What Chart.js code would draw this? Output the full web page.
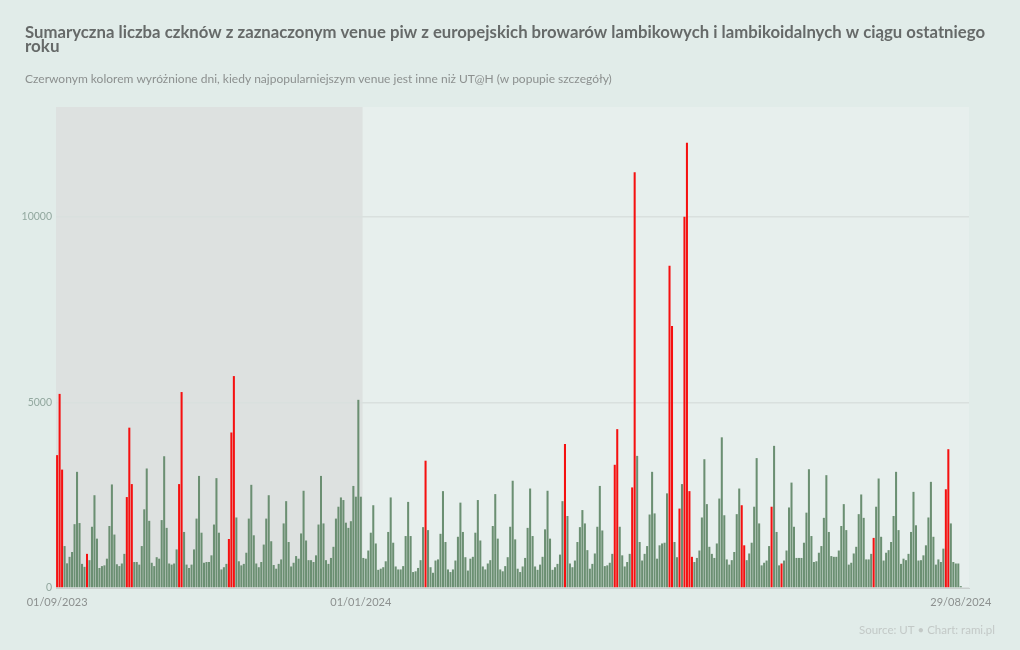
<!DOCTYPE html>
<html><head><meta charset="utf-8">
<script src="https://cdn.jsdelivr.net/npm/chart.js@4.4.1/dist/chart.umd.min.js"></script>
<style>html,body{margin:0;padding:0;background:#e1ece9;overflow:hidden}#wrap{width:1020px;height:650px;position:relative}</style>
</head><body><div id="wrap"><canvas id="c" width="1020" height="650"></canvas></div>
<script>
const startDate = '2023-09-01';
const counts = [
3580,5230,3190,1130,665,840,970,1720,3130,1750,650,570,920,750,1650,2500,1330,540,590,610,790,1670,2790,1440,640,590,660,920,2450,4320,2800,700,700,630,
1130,2120,3220,1810,680,590,830,790,1830,3550,1620,660,630,660,1040,2800,5280,1510,630,540,630,1040,1870,3020,1490,680,700,700,880,1710,2960,1490,
500,560,650,1320,4190,5710,1900,720,610,650,950,1870,2780,1420,660,560,700,1170,1870,2500,1260,620,520,650,770,1740,2340,1240,580,680,860,790,1470,2620,1280,
750,750,700,880,1710,3020,1740,750,650,810,1110,1870,2190,2440,2370,1760,1620,1800,2750,2460,5070,2460,810,790,1010,1490,2230,1200,490,520,560,720,1510,
2440,1220,580,500,500,590,1400,2320,1400,430,450,540,750,1640,3430,1560,560,410,740,770,1460,2610,1240,500,430,500,740,1380,2300,1510,830,470,790,
840,1490,2370,1280,580,500,660,750,1670,2530,1330,500,450,590,830,1650,2890,1310,520,430,580,810,1620,2680,1400,580,490,630,840,1580,2620,1330,490,560,
650,900,2340,3880,1940,660,560,740,1240,1640,2100,1740,1020,520,650,930,1650,2750,1550,590,610,680,920,3320,4280,1650,880,580,700,920,2710,11200,3560,
1240,740,920,1130,1980,3130,2010,790,1150,1200,1220,2550,8680,7060,1240,830,2140,2800,10000,12000,2610,840,700,810,1010,1900,3470,2260,1110,920,810,1200,2410,4060,
1960,770,630,750,970,1990,2680,2230,1150,750,930,1220,2190,3500,1740,610,680,740,1130,2190,3830,1510,610,660,740,1010,2170,2840,1650,810,810,810,1220,
2030,3200,1400,700,720,950,1130,1890,3040,1510,860,840,840,1010,1670,2260,1560,630,680,930,1110,1990,2520,1890,770,770,920,1350,2190,2950,1380,740,950,
1020,1240,1940,3130,1560,650,790,750,920,1510,2590,1690,740,750,880,1150,1900,2860,1380,630,770,700,1060,2660,3740,1740,700,660,660,50
];
const otherVenueDays = [0,1,2,12,28,29,30,49,50,69,70,71,148,204,224,225,231,232,246,247,250,252,253,254,255,275,276,287,291,328,357,358];
const tickDates = ['2023-09-01','2024-01-01','2024-08-29'];
const tickLabels = ['01/09/2023','01/01/2024','29/08/2024'];
const yTickValues = [0,5000,10000];
const shadeEndDate = '2024-01-01';
const titleLines = ['Sumaryczna liczba czknów z zaznaczonym venue piw z europejskich browarów lambikowych i lambikoidalnych w ciągu ostatniego','roku'];
const subtitleText = 'Czerwonym kolorem wyróżnione dni, kiedy najpopularniejszym venue jest inne niż UT@H (w popupie szczegóły)';
const sourceText = 'Source: UT • Chart: rami.pl';

function dayIndex(s){ return Math.round((Date.parse(s+'T00:00:00Z') - Date.parse(startDate+'T00:00:00Z'))/86400000); }
const points = counts.map((v,i)=>({x:i,y:v}));
const barColors = counts.map((v,i)=> otherVenueDays.includes(i) ? '#f51010' : '#6b8f72');

const bgPlugin = {
  id:'bg',
  beforeDraw(chart){
    const {ctx, chartArea:a, scales:{x}} = chart;
    ctx.save();
    ctx.fillStyle = '#e1ece9';
    ctx.fillRect(0,0,chart.width,chart.height);
    ctx.fillStyle = '#e7efed';
    ctx.fillRect(a.left,a.top,a.right-a.left,a.bottom-a.top);
    const xe = x.getPixelForValue(dayIndex(shadeEndDate)+0.7);
    ctx.fillStyle = '#dde1e0';
    ctx.fillRect(a.left,a.top,xe-a.left,a.bottom-a.top);
    ctx.restore();
  },
  afterDraw(chart){
    const ctx = chart.ctx;
    ctx.save();
    ctx.textBaseline = 'alphabetic';
    ctx.fillStyle = '#666a69';
    ctx.font = 'bold 17px Lato';
    ctx.textAlign = 'left';
    ctx.fillText(titleLines[0], 25, 38, 960);
    ctx.fillText(titleLines[1], 25, 52);
    ctx.fillStyle = '#8c908f';
    ctx.font = '12px Lato';
    ctx.fillText(subtitleText, 25, 83);
    ctx.fillStyle = '#c3c9c7';
    ctx.font = '11.5px Lato';
    ctx.textAlign = 'right';
    ctx.fillText(sourceText, 995, 634);
    ctx.restore();
  }
};

new Chart(document.getElementById('c'), {
  type:'bar',
  data:{datasets:[{data:points, backgroundColor:barColors, borderWidth:0, barPercentage:0.82, categoryPercentage:1}]},
  options:{
    responsive:false, animation:false,
    layout:{padding:{top:107,right:51,bottom:40,left:0}},
    plugins:{legend:{display:false},tooltip:{enabled:false}},
    scales:{
      x:{type:'linear', min:-0.45, max:366.3, offset:false,
        grid:{display:false},
        border:{display:true,color:'#c9cfcd'},
        afterBuildTicks:s=>{ s.ticks = tickDates.map(d=>({value:dayIndex(d)})); },
        afterFit:s=>{ s.height = 22; },
        ticks:{autoSkip:false,maxRotation:0,color:'#8c908f',font:{family:'Lato',size:11},padding:0,
          callback:(v)=>{ const k = tickDates.findIndex(d=>dayIndex(d)===v); return k>=0?tickLabels[k]:''; }}
      },
      y:{min:0,max:12960,
        grid:{color:'#d9e0de',lineWidth:1.5,drawTicks:false},
        border:{display:false},
        afterBuildTicks:s=>{ s.ticks = yTickValues.map(v=>({value:v})); },
        afterFit:s=>{ s.width = 56; },
        ticks:{color:'#92a89f',font:{family:'Lato',size:10.5},padding:4,callback:(v)=>String(v)}
      }
    }
  },
  plugins:[bgPlugin]
});
</script></body></html>
